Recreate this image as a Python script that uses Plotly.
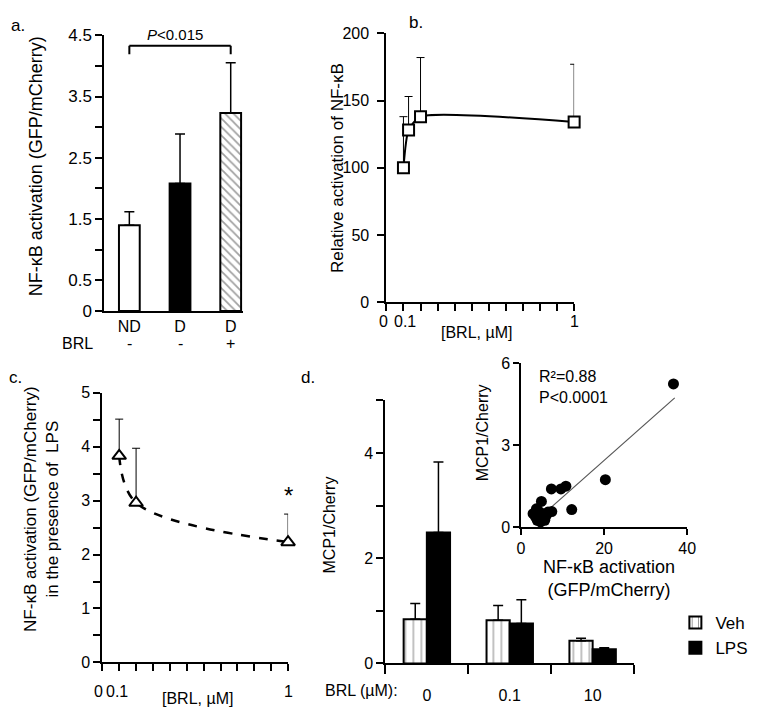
import plotly.graph_objects as go

W, H = 764, 726
def px(x): return x / W
def py(y): return 1 - y / H

FONT = "Liberation Sans, Arial, sans-serif"

# ---------------- data ----------------
# Panel a
a_cats = ["ND", "D", "D"]
a_brl = ["-", "-", "+"]
a_pos = [0, 1, 2]
a_vals = [1.40, 2.08, 3.23]
a_err = [0.22, 0.81, 0.82]

# Panel b
b_dose = [0, 0.03, 0.1, 1.0]
b_vals = [100, 128, 138, 134]
b_err = [38, 25, 44, 43]
b_range = [-0.1, 1.0]
b_ticklabels = ["0", "0.1", "1"]
b_tickpos = [-0.117, 0.012, 1.0]

# Panel c
c_dose = [0, 0.1, 1.0]
c_vals = [3.83, 2.96, 2.23]
c_err = [0.68, 1.01, 0.52]
c_range = [-0.1, 1.0]
c_ticklabels = ["0", "0.1", "1"]
c_tickpos = [-0.122, -0.013, 1.0]

# Panel d
d_groups = ["0", "0.1", "10"]
d_pos = [0, 1, 2]
d_veh = [0.84, 0.82, 0.43]
d_veh_err = [0.30, 0.28, 0.05]
d_lps = [2.49, 0.76, 0.27]
d_lps_err = [1.34, 0.45, 0.03]

# Inset scatter
ins_x = [36.7, 20.3, 12.2, 7.3, 9.6, 10.8, 4.9, 7.4, 2.9, 3.7, 3.9, 5.3, 6.1, 6.5, 4.5, 3.5, 5.7, 4.7]
ins_y = [5.25, 1.74, 0.64, 1.40, 1.40, 1.50, 0.94, 0.57, 0.49, 0.67, 0.25, 0.31, 0.43, 0.55, 0.55, 0.37, 0.25, 0.19]
fit_x = [7.3, 37.0]
fit_y = [0.73, 4.74]

fig = go.Figure()

# ---------------- panel a ----------------
fig.add_trace(go.Bar(
    x=a_pos, y=a_vals, width=0.41, xaxis="x", yaxis="y",
    marker=dict(color=["white", "black", "white"],
                line=dict(color="black", width=2),
                pattern=dict(shape=["", "", "\\"], fgcolor="black", bgcolor="white",
                             size=6, solidity=0.3)),
    error_y=dict(type="data", array=a_err, arrayminus=[0, 0, 0], symmetric=False,
                 color="black", thickness=1.5, width=5),
    showlegend=False))

# ---------------- panel b ----------------
fig.add_trace(go.Scatter(
    x=b_dose, y=b_vals, xaxis="x2", yaxis="y2", mode="lines+markers",
    line=dict(color="black", width=2, shape="spline", smoothing=0.6),
    marker=dict(symbol="square", size=11, color="white", line=dict(color="black", width=2)),
    error_y=dict(type="data", array=b_err, arrayminus=[0] * 4, symmetric=False,
                 color="black", thickness=1, width=4),
    cliponaxis=False, showlegend=False))

# ---------------- panel c ----------------
fig.add_trace(go.Scatter(
    x=c_dose, y=c_vals, xaxis="x3", yaxis="y3", mode="lines+markers",
    line=dict(color="black", width=2.5, shape="spline", dash="dash"),
    marker=dict(symbol="triangle-up", size=12, color="white", line=dict(color="black", width=2)),
    error_y=dict(type="data", array=c_err, arrayminus=[0] * 3, symmetric=False,
                 color="black", thickness=1, width=4),
    cliponaxis=False, showlegend=False))

# ---------------- panel d ----------------
fig.add_trace(go.Bar(
    x=d_pos, y=d_veh, name="Veh", xaxis="x4", yaxis="y4", width=0.28, offset=-0.28,
    marker=dict(color="white", line=dict(color="black", width=2),
                pattern=dict(shape="|", fgcolor="black", bgcolor="white", size=8, solidity=0.12)),
    error_y=dict(type="data", array=d_veh_err, arrayminus=[0] * 3, symmetric=False,
                 color="black", thickness=1.5, width=5)))
fig.add_trace(go.Bar(
    x=d_pos, y=d_lps, name="LPS", xaxis="x4", yaxis="y4", width=0.28, offset=0,
    marker=dict(color="black", line=dict(color="black", width=2)),
    error_y=dict(type="data", array=d_lps_err, arrayminus=[0] * 3, symmetric=False,
                 color="black", thickness=1.5, width=5)))

# inset
fig.add_trace(go.Scatter(
    x=fit_x, y=fit_y, xaxis="x5", yaxis="y5", mode="lines",
    line=dict(color="#555555", width=1.2), showlegend=False))
fig.add_trace(go.Scatter(
    x=ins_x, y=ins_y, xaxis="x5", yaxis="y5", mode="markers",
    marker=dict(size=11, color="black"), cliponaxis=False, showlegend=False))

axis_common = dict(showline=True, linecolor="black", linewidth=2, showgrid=False,
                   zeroline=False, tickcolor="black", tickwidth=2,
                   tickfont=dict(family=FONT, size=16, color="black"))

layout = dict(
    width=W, height=H, margin=dict(l=0, r=0, t=0, b=0),
    paper_bgcolor="white", plot_bgcolor="rgba(0,0,0,0)",
    barmode="overlay", font=dict(family=FONT, color="black"),
    showlegend=True,
    legend=dict(x=px(683), y=py(612), xanchor="left", yanchor="top",
                font=dict(family=FONT, size=17, color="black"),
                bgcolor="rgba(0,0,0,0)", itemwidth=30, tracegroupgap=2),
)

# a axes
layout["xaxis"] = dict(axis_common, domain=[px(102), px(243)], range=[-0.495, 2.24],
                       anchor="y", ticks="", tickvals=a_pos, ticktext=a_cats,
                       tickfont=dict(family=FONT, size=16, color="black"))
layout["yaxis"] = dict(axis_common, domain=[py(310), py(27)], range=[0, 4.5], anchor="x",
                       ticks="outside", ticklen=7,
                       tickvals=[0, 0.5, 1, 1.5, 2, 2.5, 3, 3.5, 4, 4.5],
                       ticktext=["0", "0.5", "", "1.5", "", "2.5", "", "3.5", "", "4.5"],
                       tickfont=dict(family=FONT, size=17, color="black"))
# b axes
layout["xaxis2"] = dict(axis_common, domain=[px(389), px(580)], range=b_range, anchor="y2",
                        ticks="outside", ticklen=7, tick0=b_range[0], dtick=0.1, tickmode="linear",
                        showticklabels=False)
layout["yaxis2"] = dict(axis_common, domain=[py(301), py(25)], range=[0, 200], anchor="x2",
                        ticks="outside", ticklen=7, tickvals=[0, 50, 100, 150, 200],
                        ticklabelstandoff=5)
# c axes
layout["xaxis3"] = dict(axis_common, domain=[px(100), px(289)], range=c_range, anchor="y3",
                        ticks="outside", ticklen=7, tick0=c_range[0], dtick=0.1, tickmode="linear",
                        showticklabels=False)
layout["yaxis3"] = dict(axis_common, domain=[py(671), py(394)], range=[0, 5], anchor="x3",
                        ticks="outside", ticklen=7,
                        tickvals=[0, 0.5, 1, 1.5, 2, 2.5, 3, 3.5, 4, 4.5, 5],
                        ticktext=["0", "", "1", "", "2", "", "3", "", "4", "", "5"])
# d axes
layout["xaxis4"] = dict(axis_common, domain=[px(388), px(641)], range=[-0.5, 2.5], anchor="y4",
                        ticks="", tickvals=d_pos, ticktext=d_groups, ticklabelstandoff=16,
                        minor=dict(ticks="outside", tick0=-0.5, dtick=1, ticklen=9,
                                   tickwidth=2, tickcolor="black"))
layout["yaxis4"] = dict(axis_common, domain=[py(672), py(402)], range=[0, 5], anchor="x4",
                        ticks="outside", ticklen=7, tickvals=[0, 1, 2, 3, 4, 5],
                        ticktext=["0", "", "2", "", "4", ""])
# inset axes
layout["xaxis5"] = dict(axis_common, domain=[px(526), px(695)], range=[0, 40], anchor="y5",
                        linewidth=1.5, tickwidth=1.5, ticks="outside", ticklen=6,
                        tickvals=[0, 20, 40])
layout["yaxis5"] = dict(axis_common, domain=[py(532), py(364)], range=[0, 6], anchor="x5",
                        linewidth=1.5, tickwidth=1.5, ticks="outside", ticklen=6,
                        tickvals=[0, 3, 6])

def ann(text, x, y, size=16, angle=0, xanchor="center", yanchor="middle", **kw):
    return dict(text=text, x=px(x), y=py(y), xref="paper", yref="paper", showarrow=False,
                textangle=angle, xanchor=xanchor, yanchor=yanchor,
                font=dict(family=FONT, size=size, color="black"), **kw)

annotations = [
    ann("a.", 14, 17, 17),
    ann("b.", 419, 14, 17),
    ann("c.", 12, 378, 17),
    ann("d.", 309, 378, 17),
    ann("NF-κB activation (GFP/mCherry)", 32, 161, 18, angle=-90),
    ann("BRL", 75, 343, 16),
    ann("<i>P</i><0.015", 174, 26, 15),
    ann("Relative activation of NF-κB", 340, 163, 17, angle=-90),
    ann("[BRL, µM]", 481, 332, 16),
    ann("NF-κB activation (GFP/mCherry)<br>in the presence of  LPS", 38, 513, 17, angle=-90),
    ann("[BRL, µM]", 197, 708, 16),
    ann("MCP1/Cherry", 331, 530, 16, angle=-90),
    ann("BRL (µM):", 364, 700, 16),
    ann("MCP1/Cherry", 487, 435, 16, angle=-90),
    ann("NF-κB activation<br>(GFP/mCherry)", 615, 585, 18),
    ann("R²=0.88", 542, 377, 16, xanchor="left"),
    ann("P<0.0001", 542, 399, 16, xanchor="left"),
]
# BRL +/- row under panel a categories
for p, s in zip(a_pos, a_brl):
    annotations.append(dict(text=s, x=p, y=py(343), xref="x", yref="paper", showarrow=False,
                            xanchor="center", font=dict(family=FONT, size=16, color="black")))
# x tick labels of panels b and c, placed through the axis range (domain fraction)
for p, s in zip(b_tickpos, b_ticklabels):
    annotations.append(dict(text=s, x=(p - b_range[0]) / (b_range[1] - b_range[0]), y=py(321),
                            xref="x2 domain", yref="paper", showarrow=False,
                            xanchor="center", yanchor="middle",
                            font=dict(family=FONT, size=16, color="black")))
for p, s in zip(c_tickpos, c_ticklabels):
    annotations.append(dict(text=s, x=(p - c_range[0]) / (c_range[1] - c_range[0]), y=py(701),
                            xref="x3 domain", yref="paper", showarrow=False,
                            xanchor="center", yanchor="middle",
                            font=dict(family=FONT, size=16, color="black")))
# significance star in panel c
annotations.append(dict(text="*", x=c_dose[2], y=c_vals[2] + c_err[2] + 0.35, xref="x3", yref="y3",
                        showarrow=False, xanchor="center",
                        font=dict(family=FONT, size=24, color="black")))
layout["annotations"] = annotations

# significance bracket in panel a
br_y, br_leg = 4.33, 4.19
layout["shapes"] = [
    dict(type="line", xref="x", yref="y", x0=a_pos[0], x1=a_pos[2], y0=br_y, y1=br_y,
         line=dict(color="black", width=2)),
    dict(type="line", xref="x", yref="y", x0=a_pos[0], x1=a_pos[0], y0=br_y, y1=br_leg,
         line=dict(color="black", width=2)),
    dict(type="line", xref="x", yref="y", x0=a_pos[2], x1=a_pos[2], y0=br_y, y1=br_leg,
         line=dict(color="black", width=2)),
]

fig.update_layout(layout)
fig.write_html("out.html", config={"displayModeBar": False},
               post_script="document.body.style.margin='0px';")
